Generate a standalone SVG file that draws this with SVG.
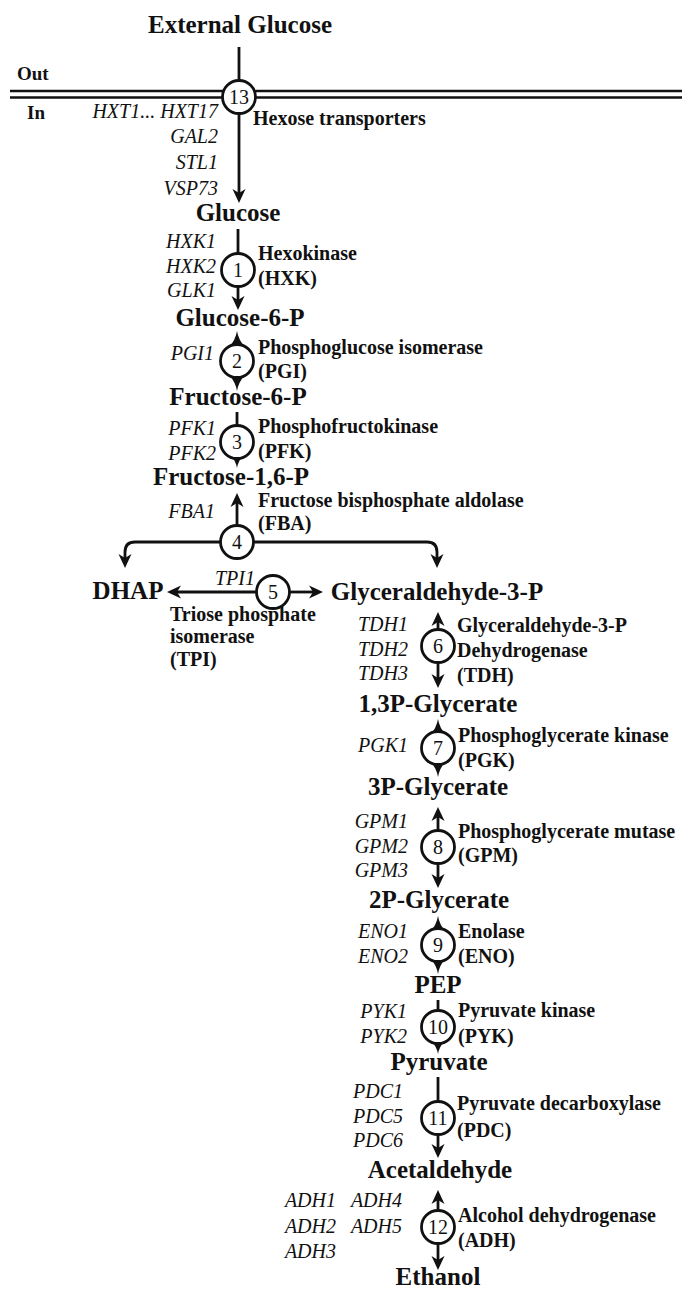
<svg xmlns="http://www.w3.org/2000/svg" xmlns:xlink="http://www.w3.org/1999/xlink" width="682" height="1289" viewBox="0 0 682 1289">
  <style>
    text { font-family: "Liberation Serif", "Times New Roman", serif; fill: #111; }
    .met { font-size: 25px; font-weight: bold; text-anchor: middle; }
    .enz { font-size: 20px; font-weight: bold; }
    .gene { font-size: 20px; font-style: italic; text-anchor: end; }
    .side { font-size: 19px; font-weight: bold; }
    .num { font-size: 20px; text-anchor: middle; }
    .step { fill: #fff; stroke: #111; stroke-width: 2.8; }
    .ln { fill: none; stroke: #111; stroke-width: 2.8; }
    .arr { fill: none; stroke: #111; stroke-width: 2.8; marker-end: url(#head); }
    .tri { fill: #111; }
    .mem { stroke: #111; stroke-width: 2.4; }
  </style>
  <defs>
    <marker id="head" viewBox="0 0 14 14" markerWidth="14" markerHeight="14" refX="8" refY="7" orient="auto" markerUnits="userSpaceOnUse">
      <path d="M0,0.5 L14,7 L0,13.5 L4,7 z" fill="#111"/>
    </marker>
    <!-- flared wedge where a reaction meets its enzyme circle -->
    <path id="wedgeUp" d="M0,-15 Q1.5,-6 8,1 L-8,1 Q-1.5,-6 0,-15 z"/>
    <path id="wedgeDown" d="M0,15 Q1.5,6 8,-1 L-8,-1 Q-1.5,6 0,15 z"/>
  </defs>

  <rect width="682" height="1289" fill="#fff"/>

  <!-- plasma membrane -->
  <g id="membrane">
    <line class="mem" x1="10" y1="91" x2="682" y2="91"/>
    <line class="mem" x1="10" y1="97.5" x2="682" y2="97.5"/>
    <text class="side" x="17" y="80">Out</text>
    <text class="side" x="27" y="119">In</text>
  </g>

  <g id="connectors">
    <!-- transport -->
    <line class="ln" x1="239" y1="47" x2="239" y2="82"/>
    <line class="arr" x1="239" y1="112" x2="239" y2="197"/>
    <!-- 1 hexokinase -->
    <line class="ln" x1="238" y1="229" x2="238" y2="256"/>
    <line class="arr" x1="238" y1="284" x2="238" y2="304"/>
    <!-- 2 PGI -->
    <use href="#wedgeUp" class="tri" x="237" y="346"/>
    <use href="#wedgeDown" class="tri" x="237" y="376"/>
    <!-- 3 PFK -->
    <line class="ln" x1="237" y1="412" x2="237" y2="428"/>
    <use href="#wedgeDown" class="tri" transform="translate(237,456) scale(0.8)"/>
    <!-- 4 aldolase -->
    <line class="arr" x1="237" y1="527" x2="237" y2="499"/>
    <path class="arr" d="M221,542 H135 Q125,542 125,552 V562"/>
    <path class="arr" d="M253,542 H427 Q437,542 437,552 V562"/>
    <!-- 5 TPI -->
    <line class="arr" x1="257" y1="592" x2="173" y2="592"/>
    <line class="arr" x1="289" y1="592" x2="317" y2="592"/>
    <!-- 6 TDH -->
    <line class="arr" x1="438" y1="631" x2="438" y2="618"/>
    <line class="arr" x1="438" y1="661" x2="438" y2="682"/>
    <!-- 7 PGK -->
    <use href="#wedgeUp" class="tri" x="438" y="734"/>
    <use href="#wedgeDown" class="tri" x="438" y="762"/>
    <!-- 8 GPM -->
    <line class="arr" x1="438" y1="832" x2="438" y2="813"/>
    <line class="arr" x1="438" y1="862" x2="438" y2="882"/>
    <!-- 9 enolase -->
    <use href="#wedgeUp" class="tri" x="438" y="931"/>
    <use href="#wedgeDown" class="tri" x="438" y="959"/>
    <!-- 10 PYK -->
    <line class="ln" x1="438" y1="1000" x2="438" y2="1012"/>
    <use href="#wedgeDown" class="tri" transform="translate(438,1042) scale(0.8)"/>
    <!-- 11 PDC -->
    <line class="ln" x1="438" y1="1077" x2="438" y2="1103"/>
    <line class="arr" x1="438" y1="1133" x2="438" y2="1152"/>
    <!-- 12 ADH -->
    <line class="arr" x1="438" y1="1212" x2="438" y2="1196"/>
    <line class="arr" x1="438" y1="1242" x2="438" y2="1264"/>
  </g>

  <!-- metabolites -->
  <g id="ext-glucose"><text class="met" x="240" y="33">External Glucose</text></g>
  <g id="glucose"><text class="met" x="238" y="221">Glucose</text></g>
  <g id="g6p"><text class="met" x="240" y="326">Glucose-6-P</text></g>
  <g id="f6p"><text class="met" x="238" y="405">Fructose-6-P</text></g>
  <g id="f16p"><text class="met" x="231" y="485">Fructose-1,6-P</text></g>
  <g id="dhap"><text class="met" x="128" y="599">DHAP</text></g>
  <g id="gap"><text class="met" x="437" y="600">Glyceraldehyde-3-P</text></g>
  <g id="bpg13"><text class="met" x="438" y="712">1,3P-Glycerate</text></g>
  <g id="pg3"><text class="met" x="438" y="795">3P-Glycerate</text></g>
  <g id="pg2"><text class="met" x="439" y="908">2P-Glycerate</text></g>
  <g id="pep"><text class="met" x="438" y="993">PEP</text></g>
  <g id="pyruvate"><text class="met" x="439" y="1070">Pyruvate</text></g>
  <g id="acetaldehyde"><text class="met" x="440" y="1178">Acetaldehyde</text></g>
  <g id="ethanol"><text class="met" x="438" y="1285">Ethanol</text></g>

  <!-- enzyme steps -->
  <g id="step13">
    <circle class="step" cx="239" cy="97" r="16.5"/>
    <text class="num" x="239" y="104">13</text>
    <text class="enz" x="253" y="125">Hexose transporters</text>
    <text class="gene" x="218" y="118">HXT1... HXT17</text>
    <text class="gene" x="218" y="143">GAL2</text>
    <text class="gene" x="218" y="169">STL1</text>
    <text class="gene" x="218" y="195">VSP73</text>
  </g>
  <g id="step1">
    <circle class="step" cx="238" cy="270" r="16.5"/>
    <text class="num" x="238" y="277">1</text>
    <text class="enz" x="258" y="260">Hexokinase</text>
    <text class="enz" x="258" y="285">(HXK)</text>
    <text class="gene" x="216" y="248">HXK1</text>
    <text class="gene" x="216" y="273">HXK2</text>
    <text class="gene" x="216" y="297">GLK1</text>
  </g>
  <g id="step2">
    <circle class="step" cx="237" cy="361" r="16.5"/>
    <text class="num" x="237" y="368">2</text>
    <text class="enz" x="258" y="354">Phosphoglucose isomerase</text>
    <text class="enz" x="258" y="378">(PGI)</text>
    <text class="gene" x="214" y="360">PGI1</text>
  </g>
  <g id="step3">
    <circle class="step" cx="237" cy="442" r="16.5"/>
    <text class="num" x="237" y="449">3</text>
    <text class="enz" x="258" y="433">Phosphofructokinase</text>
    <text class="enz" x="258" y="458">(PFK)</text>
    <text class="gene" x="216" y="435">PFK1</text>
    <text class="gene" x="216" y="460">PFK2</text>
  </g>
  <g id="step4">
    <circle class="step" cx="237" cy="542" r="16.5"/>
    <text class="num" x="237" y="549">4</text>
    <text class="enz" x="258" y="507">Fructose bisphosphate aldolase</text>
    <text class="enz" x="258" y="530">(FBA)</text>
    <text class="gene" x="215" y="518">FBA1</text>
  </g>
  <g id="step5">
    <circle class="step" cx="273" cy="592" r="16.5"/>
    <text class="num" x="273" y="598.5">5</text>
    <text class="gene" x="255" y="585">TPI1</text>
    <text class="enz" x="170" y="621">Triose phosphate</text>
    <text class="enz" x="170" y="643">isomerase</text>
    <text class="enz" x="170" y="666">(TPI)</text>
  </g>
  <g id="step6">
    <circle class="step" cx="438" cy="646" r="16.5"/>
    <text class="num" x="438" y="653">6</text>
    <text class="enz" x="457" y="632">Glyceraldehyde-3-P</text>
    <text class="enz" x="457" y="657">Dehydrogenase</text>
    <text class="enz" x="457" y="682">(TDH)</text>
    <text class="gene" x="408" y="631">TDH1</text>
    <text class="gene" x="408" y="656">TDH2</text>
    <text class="gene" x="408" y="680">TDH3</text>
  </g>
  <g id="step7">
    <circle class="step" cx="438" cy="748" r="16.5"/>
    <text class="num" x="438" y="755">7</text>
    <text class="enz" x="458" y="742">Phosphoglycerate kinase</text>
    <text class="enz" x="458" y="767">(PGK)</text>
    <text class="gene" x="408" y="752">PGK1</text>
  </g>
  <g id="step8">
    <circle class="step" cx="438" cy="847" r="16.5"/>
    <text class="num" x="438" y="854">8</text>
    <text class="enz" x="458" y="838">Phosphoglycerate mutase</text>
    <text class="enz" x="458" y="862">(GPM)</text>
    <text class="gene" x="408" y="828">GPM1</text>
    <text class="gene" x="408" y="853">GPM2</text>
    <text class="gene" x="408" y="877">GPM3</text>
  </g>
  <g id="step9">
    <circle class="step" cx="438" cy="945" r="16.5"/>
    <text class="num" x="438" y="952">9</text>
    <text class="enz" x="458" y="938">Enolase</text>
    <text class="enz" x="458" y="963">(ENO)</text>
    <text class="gene" x="408" y="938">ENO1</text>
    <text class="gene" x="408" y="963">ENO2</text>
  </g>
  <g id="step10">
    <circle class="step" cx="438" cy="1027" r="16.5"/>
    <text class="num" x="438" y="1034">10</text>
    <text class="enz" x="458" y="1017">Pyruvate kinase</text>
    <text class="enz" x="458" y="1043">(PYK)</text>
    <text class="gene" x="407" y="1018">PYK1</text>
    <text class="gene" x="407" y="1043">PYK2</text>
  </g>
  <g id="step11">
    <circle class="step" cx="438" cy="1118" r="16.5"/>
    <text class="num" x="438" y="1125">11</text>
    <text class="enz" x="457" y="1110">Pyruvate decarboxylase</text>
    <text class="enz" x="457" y="1137">(PDC)</text>
    <text class="gene" x="403" y="1098">PDC1</text>
    <text class="gene" x="403" y="1123">PDC5</text>
    <text class="gene" x="403" y="1147">PDC6</text>
  </g>
  <g id="step12">
    <circle class="step" cx="438" cy="1227" r="16.5"/>
    <text class="num" x="438" y="1234">12</text>
    <text class="enz" x="458" y="1222">Alcohol dehydrogenase</text>
    <text class="enz" x="458" y="1247">(ADH)</text>
    <text class="gene" x="336" y="1207">ADH1</text>
    <text class="gene" x="336" y="1233">ADH2</text>
    <text class="gene" x="336" y="1258">ADH3</text>
    <text class="gene" x="402" y="1207">ADH4</text>
    <text class="gene" x="402" y="1233">ADH5</text>
  </g>
</svg>
